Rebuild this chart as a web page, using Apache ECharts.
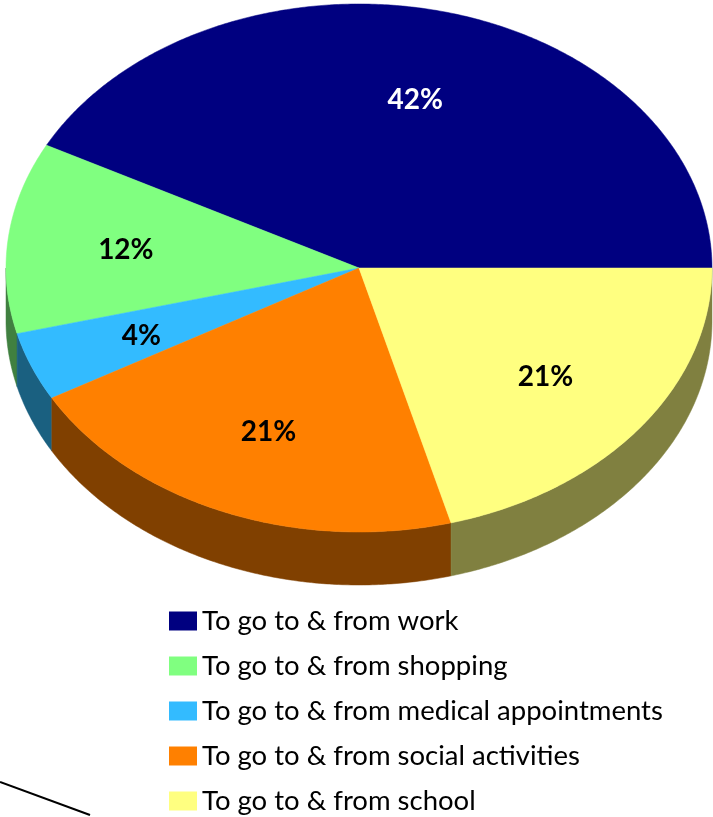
<!DOCTYPE html>
<html>
<head>
<meta charset="utf-8">
<style>
  html, body { margin: 0; padding: 0; background: #fff; }
  #chartsDom { width: 713px; height: 817px; }
</style>
</head>
<body>
<div id="chartsDom"></div>
<script src="https://cdn.jsdelivr.net/npm/echarts@6/dist/echarts.min.js"></script>
<script>
const categories = [
  'To go to & from work',
  'To go to & from shopping',
  'To go to & from medical appointments',
  'To go to & from social activities',
  'To go to & from school'
];
const shares = [42.3, 11.7, 4.2, 21.0, 20.8];
const topColors = ['#000080', '#80ff80', '#33bbff', '#ff8000', '#ffff80'];
const wallColors = ['#000040', '#408040', '#1a6080', '#804000', '#808040'];
const labelColors = ['#fff', '#000', '#000', '#000', '#000'];

/* 椭圆饼的几何参数 */
const cx = 359, cy = 268, rx = 353, ry = 264, depth = 53;
const labelRadius = 0.665;
const fontName = 'Lato, "Open Sans", sans-serif';

const total = shares.reduce((a, b) => a + b, 0);

function rim(deg) {
  const t = deg * Math.PI / 180;
  return [cx + rx * Math.cos(t), cy - ry * Math.sin(t)];
}

function arcPoints(from, to) {
  const pts = [];
  const steps = Math.max(2, Math.ceil((to - from) / 0.5));
  for (let i = 0; i <= steps; i++) {
    pts.push(rim(from + (to - from) * i / steps));
  }
  return pts;
}

function sliceRenderer(index) {
  return function (params, api) {
    let sum = 0;
    for (let i = 0; i < index; i++) sum += shares[i];
    const start = sum / total * 360;
    const end = (sum + api.value(0)) / total * 360;
    const mid = (start + end) / 2;
    const children = [];

    /* 侧面，只画下半圈 */
    const wallFrom = Math.max(start, 180);
    if (end > wallFrom) {
      const upper = arcPoints(wallFrom, end);
      const lower = upper.map(p => [p[0], p[1] + depth]).reverse();
      children.push({
        type: 'polygon',
        shape: { points: upper.concat(lower) },
        style: { fill: wallColors[index], stroke: wallColors[index], lineWidth: 0.5 }
      });
    }

    /* 顶面 */
    children.push({
      type: 'polygon',
      shape: { points: [[cx, cy]].concat(arcPoints(start, end)) },
      style: { fill: topColors[index], stroke: topColors[index], lineWidth: 0.5 }
    });

    /* 百分比标签 */
    const t = mid * Math.PI / 180;
    children.push({
      type: 'text',
      z2: 10,
      style: {
        x: cx + rx * labelRadius * Math.cos(t),
        y: cy - ry * labelRadius * Math.sin(t) + 2,
        text: Math.round(api.value(0)) + '%',
        fill: labelColors[index],
        font: 'bold 28px ' + fontName,
        align: 'center',
        verticalAlign: 'middle'
      }
    });
    return { type: 'group', children: children };
  };
}

const chartsDom = echarts.init(document.getElementById('chartsDom'));
let option = {
  animation: false,
  backgroundColor: '#fff',
  legend: {
    show: true,
    orient: 'vertical',
    left: 169,
    top: 607,
    height: 210,
    padding: 0,
    itemWidth: 28,
    itemHeight: 19,
    itemGap: 17,
    icon: 'rect',
    selectedMode: false,
    data: categories,
    textStyle: {
      color: '#000',
      fontFamily: fontName,
      fontSize: 27.5
    }
  },
  graphic: [
    {
      type: 'line',
      shape: { x1: 0, y1: 782, x2: 90, y2: 815 },
      style: { stroke: '#000', lineWidth: 2 }
    }
  ],
  series: categories.map((name, i) => ({
    name: name,
    type: 'custom',
    coordinateSystem: 'none',
    silent: true,
    itemStyle: { color: topColors[i] },
    renderItem: sliceRenderer(i),
    data: [[shares[i]]]
  }))
};
option && chartsDom.setOption(option);
</script>
</body>
</html>
